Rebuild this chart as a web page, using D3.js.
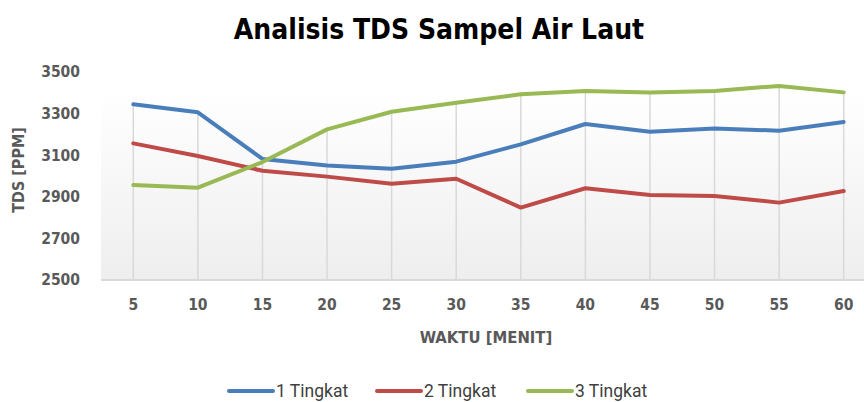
<!DOCTYPE html>
<html>
<head>
<meta charset="utf-8">
<script src="https://cdn.jsdelivr.net/npm/d3@7/dist/d3.min.js"></script>
<style>
  body { margin: 0; background: #fff; }
  svg { display: block; }
</style>
</head>
<body>
<div id="chart"></div>
<script>
// data
var waktu = [5, 10, 15, 20, 25, 30, 35, 40, 45, 50, 55, 60];
var tingkat1 = [3345, 3306, 3082, 3050, 3035, 3069, 3152, 3250, 3213, 3228, 3218, 3260];
var tingkat2 = [3157, 3096, 3025, 2997, 2963, 2987, 2848, 2941, 2909, 2904, 2872, 2928];
var tingkat3 = [2957, 2944, 3067, 3224, 3309, 3352, 3393, 3409, 3402, 3409, 3433, 3402];
var seriesNames = ["1 Tingkat", "2 Tingkat", "3 Tingkat"];
var yTicks = [2500, 2700, 2900, 3100, 3300, 3500];

var colors = ["#4a7ebb", "#be4b48", "#98b954"];
var allSeries = [tingkat1, tingkat2, tingkat3];

var width = 864, height = 402;
var plotLeft = 101, plotRight = 876, plotTop = 72, plotBottom = 280;
var tickFont = "'DejaVu Sans Condensed', 'DejaVu Sans', sans-serif";

var svg = d3.select("#chart").append("svg")
  .attr("width", width)
  .attr("height", height);

var defs = svg.append("defs");
var grad = defs.append("linearGradient")
  .attr("id", "plotbg")
  .attr("x1", 0).attr("y1", 0).attr("x2", 0).attr("y2", 1);
grad.append("stop").attr("offset", "0%").attr("stop-color", "#ffffff");
grad.append("stop").attr("offset", "100%").attr("stop-color", "#eeeeee");

var x = d3.scalePoint()
  .domain(waktu)
  .range([plotLeft, plotRight])
  .padding(0.5);

var y = d3.scaleLinear()
  .domain([2500, 3500])
  .range([plotBottom, plotTop]);

// plot area
svg.append("rect")
  .attr("x", plotLeft)
  .attr("y", plotTop + 20)
  .attr("width", plotRight - plotLeft)
  .attr("height", plotBottom - plotTop - 20)
  .attr("fill", "url(#plotbg)");

// drop lines from the highest point down to the axis
svg.append("g")
  .selectAll("line")
  .data(waktu)
  .enter().append("line")
  .attr("x1", function(d) { return x(d); })
  .attr("x2", function(d) { return x(d); })
  .attr("y1", function(d, i) {
    return y(d3.max(allSeries, function(s) { return s[i]; }));
  })
  .attr("y2", plotBottom)
  .attr("stroke", "#d9d9d9")
  .attr("stroke-width", 1.5);

// bottom axis line
svg.append("line")
  .attr("x1", plotLeft).attr("x2", plotRight)
  .attr("y1", plotBottom).attr("y2", plotBottom)
  .attr("stroke", "#d9d9d9")
  .attr("stroke-width", 2);

// y tick labels
svg.append("g")
  .selectAll("text")
  .data(yTicks)
  .enter().append("text")
  .attr("x", 80)
  .attr("y", function(d) { return y(d); })
  .attr("dy", "0.35em")
  .attr("text-anchor", "end")
  .attr("font-family", tickFont)
  .attr("font-weight", "bold")
  .attr("font-size", 15.5)
  .attr("fill", "#595959")
  .text(function(d) { return d; });

// x tick labels
svg.append("g")
  .selectAll("text")
  .data(waktu)
  .enter().append("text")
  .attr("x", function(d) { return x(d); })
  .attr("y", 310)
  .attr("text-anchor", "middle")
  .attr("font-family", tickFont)
  .attr("font-weight", "bold")
  .attr("font-size", 15.5)
  .attr("fill", "#595959")
  .text(function(d) { return d; });

// axis titles
svg.append("text")
  .attr("x", 486)
  .attr("y", 343)
  .attr("text-anchor", "middle")
  .attr("font-family", tickFont)
  .attr("font-weight", "bold")
  .attr("font-size", 16.5)
  .attr("fill", "#595959")
  .text("WAKTU [MENIT]");

svg.append("text")
  .attr("transform", "translate(24,170) rotate(-90)")
  .attr("text-anchor", "middle")
  .attr("font-family", tickFont)
  .attr("font-weight", "bold")
  .attr("font-size", 16)
  .attr("fill", "#595959")
  .text("TDS [PPM]");

// title
svg.append("text")
  .attr("x", 439)
  .attr("y", 39)
  .attr("text-anchor", "middle")
  .attr("font-family", tickFont)
  .attr("font-weight", "bold")
  .attr("font-size", 28)
  .attr("fill", "#000")
  .text("Analisis TDS Sampel Air Laut");

// lines
var line = d3.line()
  .x(function(d, i) { return x(waktu[i]); })
  .y(function(d) { return y(d); });

svg.append("g")
  .selectAll("path")
  .data(allSeries)
  .enter().append("path")
  .attr("d", line)
  .attr("fill", "none")
  .attr("stroke", function(d, i) { return colors[i]; })
  .attr("stroke-width", 4)
  .attr("stroke-linejoin", "round")
  .attr("stroke-linecap", "round");

// legend
var legendX = [229, 377, 528];
var legend = svg.append("g")
  .selectAll("g")
  .data(seriesNames)
  .enter().append("g")
  .attr("transform", function(d, i) { return "translate(" + legendX[i] + ",391)"; });

legend.append("line")
  .attr("x1", 0).attr("x2", 44)
  .attr("y1", 0).attr("y2", 0)
  .attr("stroke", function(d, i) { return colors[i]; })
  .attr("stroke-width", 4)
  .attr("stroke-linecap", "round");

legend.append("text")
  .attr("x", 47)
  .attr("y", 0)
  .attr("dy", "0.35em")
  .attr("font-family", "Roboto, sans-serif")
  .attr("font-size", 17.5)
  .attr("fill", "#404040")
  .text(function(d) { return d; });
</script>
</body>
</html>
